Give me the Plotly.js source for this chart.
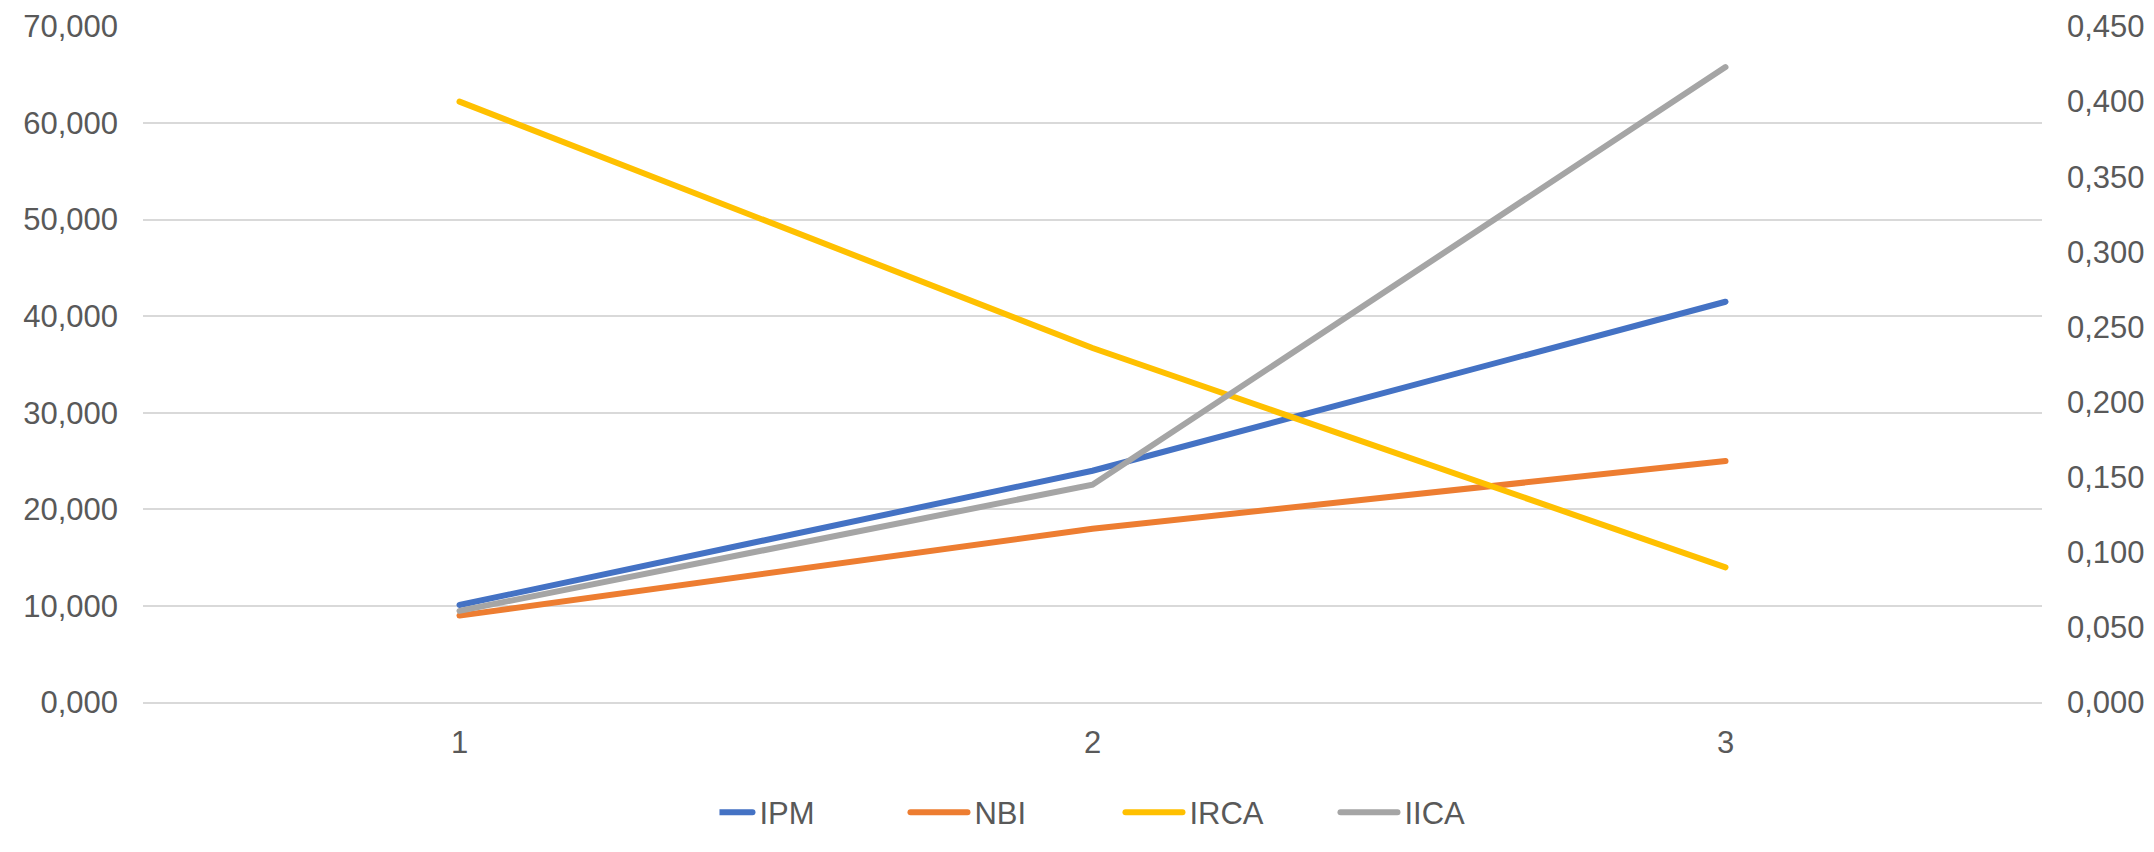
<!DOCTYPE html>
<html>
<head>
<meta charset="utf-8">
<script src="https://cdn.plot.ly/plotly-3.0.1.min.js"></script>
<style>
  html, body { margin: 0; padding: 0; background: #ffffff; }
  #chart { width: 2154px; height: 852px; }
  #chart path.js-line { stroke-linecap: round; }
</style>
</head>
<body>
<div id="chart"></div>
<script>
const categories = ['1', '2', '3'];
const seriesNames = ['IPM', 'NBI', 'IRCA', 'IICA'];
const ipm  = [10.1, 24.0, 41.5];
const nbi  = [9.0, 18.0, 25.0];
const irca = [0.400, 0.236, 0.090];
const iica = [0.061, 0.145, 0.423];
const leftTicks  = [0, 10, 20, 30, 40, 50, 60, 70];
const rightTicks = [0, 0.05, 0.1, 0.15, 0.2, 0.25, 0.3, 0.35, 0.4, 0.45];

const colors = ['#4472C4', '#ED7D31', '#FFC000', '#A5A5A5'];
const font = { family: '"Liberation Sans", Arial, sans-serif', size: 31, color: '#595959' };

function line(name, y, color, axis) {
  return {
    type: 'scatter', mode: 'lines', name: name,
    x: categories, y: y, yaxis: axis,
    line: { color: color, width: 6 },
    hoverinfo: 'skip'
  };
}

const data = [
  line(seriesNames[0], ipm,  colors[0], 'y'),
  line(seriesNames[1], nbi,  colors[1], 'y'),
  line(seriesNames[2], irca, colors[2], 'y2'),
  line(seriesNames[3], iica, colors[3], 'y2')
];

const pad = 0.05;
const layout = {
  width: 2154, height: 852,
  margin: { l: 143, r: 112, t: 26, b: 128 },
  paper_bgcolor: '#ffffff', plot_bgcolor: '#ffffff',
  separators: ',.',
  font: font,
  showlegend: true,
  legend: {
    orientation: 'h', x: 0.530, xanchor: 'center', y: -0.162, yanchor: 'middle',
    font: { family: font.family, size: 31, color: '#595959' },
    entrywidth: 170, entrywidthmode: 'pixels',
    traceorder: 'normal'
  },
  xaxis: {
    type: 'category', range: [-0.5, 2.5],
    showgrid: false, zeroline: false, showline: false,
    ticks: '', ticklabelstandoff: 18,
    tickfont: font, fixedrange: true
  },
  yaxis: {
    range: [-pad, 70 + pad], tickvals: leftTicks, tickformat: '.3f',
    showgrid: true, gridcolor: '#D9D9D9', gridwidth: 2,
    zeroline: true, zerolinecolor: '#D9D9D9', zerolinewidth: 2,
    showline: false, ticks: '',
    ticklabelstandoff: 24, tickfont: font, fixedrange: true
  },
  yaxis2: {
    overlaying: 'y', side: 'right',
    range: [-pad * 0.45 / 70, 0.45 + pad * 0.45 / 70], tickvals: rightTicks, tickformat: '.3f',
    showgrid: false, zeroline: false, showline: false, ticks: '',
    ticklabelstandoff: 24, tickfont: font, fixedrange: true
  }
};

Plotly.newPlot('chart', data, layout, { displayModeBar: false, staticPlot: true }).then(function (gd) {
  // lengthen legend sample lines to match the reference look
  gd.querySelectorAll('.legend .legendlines path').forEach(function (p) {
    p.setAttribute('d', 'M-24,0h57');
  });
});
</script>
</body>
</html>
